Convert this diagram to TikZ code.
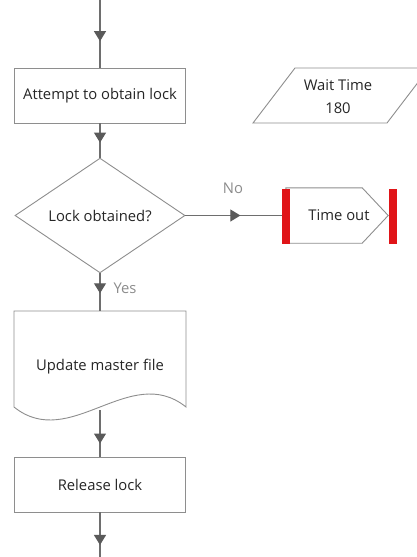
\documentclass[tikz,border=0pt]{standalone}
\usepackage{fontspec}
\setmainfont{Open Sans}
\usetikzlibrary{arrows.meta,shapes.geometric,decorations.markings,calc}
\definecolor{linegray}{HTML}{6E6E6E}
\definecolor{bordergray}{HTML}{8E8E8E}
\definecolor{tipgray}{HTML}{5A5A5A}
\definecolor{textdark}{HTML}{262626}
\definecolor{labelgray}{HTML}{8C8C8C}
\definecolor{barred}{HTML}{E01418}

\begin{document}
\begin{tikzpicture}[x=1pt,y=-1pt,
  every node/.style={font=\fontsize{14.8}{23}\selectfont, text=textdark, inner sep=0pt},
  outline/.style={draw=bordergray, line width=0.9pt},
  box/.style={outline, fill=white, minimum width=171pt, minimum height=55pt},
  decision/.style={diamond, outline, fill=white, minimum width=170pt, minimum height=110pt},
  flow/.style={draw=linegray, line width=1.1pt, postaction=decorate,
    decoration={markings, mark=at position #1 with {\arrow[tipgray]{Triangle[width=12pt,length=10pt]}}}},
  flow/.default=0.55,
  branch/.style={text=labelgray},
  redbar/.style={fill=barred, draw=none}
]
\useasboundingbox (0,0) rectangle (417,557);

% process steps
\node[box] (attempt) at (100,95.5) {Attempt to obtain lock};
\node[decision] (obtained) at (100,215.5) {Lock obtained?};
\node[box] (release) at (100,484.5) {Release lock};

% document shape with wavy lower edge
\coordinate (doctop) at (100,311);
\coordinate (docbottom) at (100,410);
\draw[outline, fill=white] (14,311) -- (186,311) -- (186,407)
  .. controls (130,362) and (70,452) .. (14,407) -- cycle;
\node (update) at (100,367) {Update master file};

% wait time input (parallelogram)
\begin{scope}
  \clip (0,0) rectangle (417,557);
  \draw[outline, fill=white] (253,123) -- (295,68) -- (429,68) -- (387,123) -- cycle;
\end{scope}
\node[align=center] (wait) at (338,96.5) {Wait Time\\180};

% time out terminator with red bars
\node[minimum width=102pt, minimum height=55pt] (timeout) at (337,215.5) {};
\draw[outline, fill=white] (timeout.north west) -- ($(timeout.north east)+(-26,0)$)
  -- (timeout.east) -- ($(timeout.south east)+(-26,0)$) -- (timeout.south west) -- cycle;
\node (timeouttext) at ($(timeout.center)+(2,0)$) {Time out};
\fill[redbar] ($(timeout.north west)+(-4,1)$) rectangle ($(timeout.south west)+(4,1)$);
\fill[redbar] ($(timeout.north east)+(1,1)$) rectangle ($(timeout.south east)+(9,1)$);

% connectors
\coordinate (entry) at (100,0);
\coordinate (exit) at (100,557);
\draw[flow=0.61] (entry) -- (attempt.north);
\draw[flow=0.56] (attempt.south) -- (obtained.north);
\draw[flow=0.53] (obtained.south) -- (doctop);
\draw[flow=0.72] (docbottom) -- (release.north);
\draw[flow=0.73] (release.south) -- (exit);
\draw[flow=0.57] (obtained.east) -- ($(timeout.west)+(-4,0)$);

% branch labels
\node[branch] (nolabel) at (233,188) {No};
\node[branch] (yeslabel) at (125,288) {Yes};
\end{tikzpicture}
\end{document}
